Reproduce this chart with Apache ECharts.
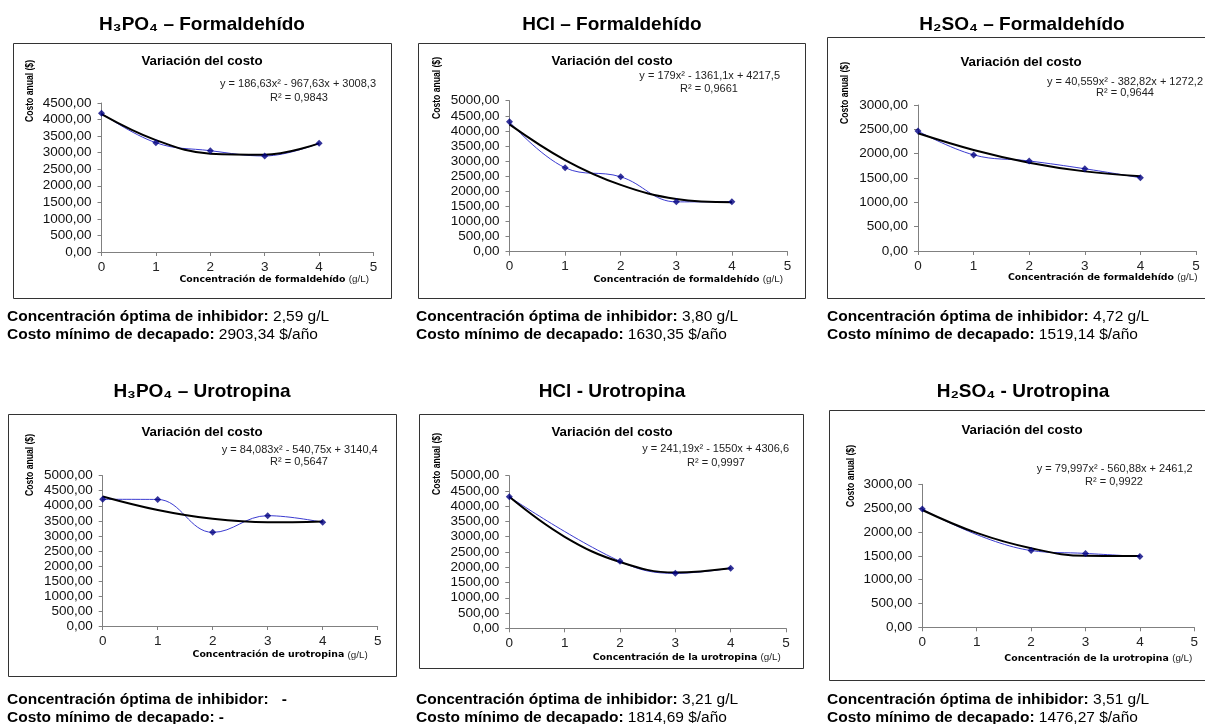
<!DOCTYPE html>
<html><head><meta charset="utf-8">
<script src="https://cdn.jsdelivr.net/npm/echarts@6/dist/echarts.min.js"></script>
<style>html,body{margin:0;padding:0;background:#fff}#c{width:1205px;height:724px}</style>
</head><body><div id="c"></div>
<script>
// ---------- DATA ----------
const concentracion = [0, 1, 2, 3, 4];
const xTickMax = 5;
const h3po4Formaldehido = [4190, 3300, 3060, 2900, 3285];
const hclFormaldehido   = [4300, 2780, 2480, 1650, 1655];
const h2so4Formaldehido = [2465, 1975, 1850, 1690, 1505];
const h3po4Urotropina   = [4215, 4210, 3115, 3670, 3450];
const hclUrotropina     = [4310, null, 2195, 1800, 1970];
const h2so4Urotropina   = [2480, null, 1610, 1550, 1485];
// polynomial trend lines at x = 0..4
const tendH3po4Form = [4165, 3380, 2971, 2937, 3279];
const tendHclForm   = [4217, 3035, 2211, 1745, 1637];
const tendH2so4Form = [2420, 2077, 1815, 1636, 1538];
const tendH3po4Uro  = [4310, 3860, 3565, 3450, 3480];
const tendHclUro    = [4307, 2998, 2171, 1827, 1966];
const tendH2so4Uro  = [2461, 1980, 1659, 1499, 1498];
const yMaxima = [4500, 5000, 3000, 5000, 5000, 3000];
const yInterval = 500;
const encabezados = ['H₃PO₄ – Formaldehído', 'HCl – Formaldehído', 'H₂SO₄ – Formaldehído',
                     'H₃PO₄ – Urotropina', 'HCl - Urotropina', 'H₂SO₄ - Urotropina'];
const ecuaciones = ['y = 186,63x² - 967,63x + 3008,3', 'y = 179x² - 1361,1x + 4217,5',
                    'y = 40,559x² - 382,82x + 1272,2', 'y = 84,083x² - 540,75x + 3140,4',
                    'y = 241,19x² - 1550x + 4306,6', 'y = 79,997x² - 560,88x + 2461,2'];
const r2 = ['R² = 0,9843', 'R² = 0,9661', 'R² = 0,9644', 'R² = 0,5647', 'R² = 0,9997', 'R² = 0,9922'];
const ejeX = ['Concentración de formaldehído', 'Concentración de formaldehído', 'Concentración de formaldehído',
              'Concentración de urotropina', 'Concentración de la urotropina', 'Concentración de la urotropina'];
const concOptima = ['2,59 g/L', '3,80 g/L', '4,72 g/L', '-', '3,21 g/L', '3,51 g/L'];
const costoMinimo = ['2903,34 $/año', '1630,35 $/año', '1519,14 $/año', '-', '1814,69 $/año', '1476,27 $/año'];
const tituloInterno = 'Variación del costo';
const ejeY = 'Costo anual ($)';

const valores = [h3po4Formaldehido, hclFormaldehido, h2so4Formaldehido, h3po4Urotropina, hclUrotropina, h2so4Urotropina];
const tendencias = [tendH3po4Form, tendHclForm, tendH2so4Form, tendH3po4Uro, tendHclUro, tendH2so4Uro];

// ---------- LAYOUT ----------
const L = [
  {grid:{left:101.5, top:103,   width:272,   height:149},   box:[13,43,378,255],  head:[202,25],  tit:[202,61],    eq:[376,84],     r2:[299,98],    yn:[29.5,91], xn:[369,279.5],   note:[7,317]},
  {grid:{left:509.5, top:100.7, width:278,   height:151},   box:[418,43,387,255], head:[612,25],  tit:[612,61],    eq:[780,76],     r2:[709,89],    yn:[437,88],  xn:[783,279.5],   note:[416,317]},
  {grid:{left:918,   top:105,   width:278,   height:146},   box:[827,37,383,261], head:[1022,25], tit:[1021,62],   eq:[1203,81.7],  r2:[1125,93.3], yn:[845,93],  xn:[1197.5,277.7],note:[827,317]},
  {grid:{left:102.7, top:475.7, width:275,   height:150.3}, box:[8,414,388,262],  head:[202,392], tit:[202,432.7], eq:[377.7,450],   r2:[299,462.3], yn:[29.5,465],xn:[367.7,655],   note:[7,700]},
  {grid:{left:509.3, top:475.7, width:276.7, height:152.6}, box:[419,414,384,254],head:[612,392], tit:[612,432.7], eq:[789,449.3],   r2:[716,462.7], yn:[437,464], xn:[780.7,657.7], note:[416,700]},
  {grid:{left:922.3, top:484.3, width:272,   height:143},   box:[829,410,381,270],head:[1023,392],tit:[1022,430],  eq:[1192.7,469.3],r2:[1114,482.3],yn:[851,476], xn:[1192.3,658.3],note:[827,700]}
];

const ARIAL = '"Liberation Sans", Arial, sans-serif';
const grids = [], xAxes = [], yAxes = [], series = [], graphics = [];

L.forEach((p, i) => {
  grids.push(Object.assign({outerBoundsMode:'none', containLabel:false}, p.grid));
  xAxes.push({
    type:'value', gridIndex:i, min:0, max:xTickMax, interval:1,
    axisLine:{show:true, onZero:false, lineStyle:{color:'#808080', width:1}},
    axisTick:{show:true, inside:false, length:4, lineStyle:{color:'#808080'}},
    splitLine:{show:false},
    axisLabel:{fontFamily:ARIAL, fontSize:13.5, color:'#222', margin:8}
  });
  yAxes.push({
    type:'value', gridIndex:i, min:0, max:yMaxima[i], interval:yInterval,
    axisLine:{show:true, onZero:false, lineStyle:{color:'#808080', width:1}},
    axisTick:{show:true, inside:false, length:4, lineStyle:{color:'#808080'}},
    splitLine:{show:false},
    axisLabel:{fontFamily:ARIAL, fontSize:13.5, color:'#111', margin:10,
      formatter:v => v.toFixed(2).replace('.', ',')}
  });
  const pts = concentracion.map((x, k) => [x, valores[i][k]]).filter(d => d[1] != null);
  const tend = concentracion.map((x, k) => [x, tendencias[i][k]]);
  series.push({type:'line', xAxisIndex:i, yAxisIndex:i, data:pts, smooth:0.4, showSymbol:false,
    lineStyle:{color:'#3b3bd0', width:1}, z:2, silent:true});
  series.push({type:'line', xAxisIndex:i, yAxisIndex:i, data:tend, smooth:0.4, showSymbol:false,
    lineStyle:{color:'#000', width:2}, z:3, silent:true});
  series.push({type:'scatter', xAxisIndex:i, yAxisIndex:i, data:pts, symbol:'diamond', symbolSize:7,
    itemStyle:{color:'#000080'}, z:4, silent:true});

  // box
  graphics.push({type:'rect', shape:{x:p.box[0]+0.5, y:p.box[1]+0.5, width:p.box[2], height:p.box[3]},
    style:{fill:'none', stroke:'#333', lineWidth:1}, z:-1});
  // heading
  graphics.push({type:'text', x:p.head[0], y:p.head[1], style:{text:encabezados[i], fill:'#000',
    font:'bold 19px ' + ARIAL, align:'center', verticalAlign:'middle'}});
  // inner title
  graphics.push({type:'text', x:p.tit[0], y:p.tit[1], style:{text:tituloInterno, fill:'#000',
    font:'bold 13.3px ' + ARIAL, align:'center', verticalAlign:'middle'}});
  // equation + R2
  graphics.push({type:'text', x:p.eq[0], y:p.eq[1], style:{text:ecuaciones[i], fill:'#222',
    font:'11px ' + ARIAL, align:'right', verticalAlign:'middle'}});
  graphics.push({type:'text', x:p.r2[0], y:p.r2[1], style:{text:r2[i], fill:'#222',
    font:'11px ' + ARIAL, align:'center', verticalAlign:'middle'}});
  // y axis name (rotated)
  graphics.push({type:'text', x:p.yn[0], y:p.yn[1], rotation:Math.PI/2, scaleX:0.78,
    style:{text:ejeY, fill:'#000', font:'bold 11px ' + ARIAL, align:'center', verticalAlign:'middle'}});
  // x axis name
  graphics.push({type:'text', x:p.xn[0], y:p.xn[1], style:{
    text:'{b|' + ejeX[i] + '} {n|(g/L)}', align:'right', verticalAlign:'middle',
    rich:{b:{fontFamily:'"DejaVu Sans", Verdana, sans-serif', fontWeight:'bold', fontSize:9.4, fill:'#000'},
          n:{fontFamily:ARIAL, fontSize:9.8, fill:'#222'}}}});
  // notes below
  const valStyle1 = concOptima[i] === '-' ? 'b' : 'n';
  const valStyle2 = costoMinimo[i] === '-' ? 'b' : 'n';
  const sep1 = concOptima[i] === '-' ? '   ' : ' ';
  graphics.push({type:'text', x:p.note[0], y:p.note[1] - 8.75, style:{
    text:'{b|Concentración óptima de inhibidor:}{' + valStyle1 + '|' + sep1 + concOptima[i] + '}\n' +
         '{b|Costo mínimo de decapado:}{' + valStyle2 + '| ' + costoMinimo[i] + '}',
    align:'left', verticalAlign:'top',
    rich:{b:{fontFamily:ARIAL, fontWeight:'bold', fontSize:15.5, lineHeight:17.5, fill:'#000'},
          n:{fontFamily:ARIAL, fontSize:15.5, lineHeight:17.5, fill:'#000'}}}});
});

const chart = echarts.init(document.getElementById('c'), null, {renderer:'canvas'});
chart.setOption({
  animation:false,
  backgroundColor:'#fff',
  grid:grids, xAxis:xAxes, yAxis:yAxes, series:series,
  graphic:{elements:graphics}
});
</script>
</body></html>
